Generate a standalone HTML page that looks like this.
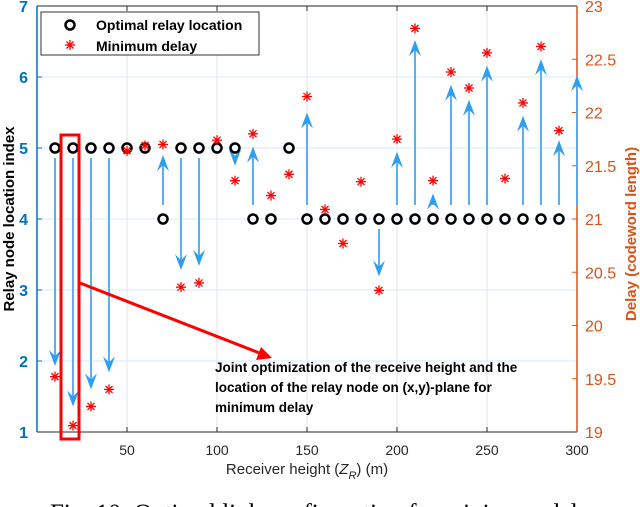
<!DOCTYPE html>
<html><head><meta charset="utf-8"><style>
html,body{margin:0;padding:0;background:#fff;width:640px;height:507px;overflow:hidden}
svg{display:block;font-family:"Liberation Sans",sans-serif}
</style></head><body>
<svg id="chart" width="640" height="507" viewBox="0 0 640 507" xmlns="http://www.w3.org/2000/svg">
<g id="grid"></g>
<g id="axes"></g>
<g id="arrows"></g>
<g id="marks"></g>
<g>
<rect x="61" y="135" width="18" height="304" fill="none" stroke="#ff0000" stroke-width="3"/>
<line x1="80" y1="283" x2="262" y2="354" stroke="#ff0000" stroke-width="3"/>
<polygon points="272,358 256,360 261,347" fill="#ff0000"/>
<text x="215" y="372" font-size="13.5" font-weight="bold" fill="#000"><tspan x="215">Joint optimization of the receive height and the</tspan><tspan x="215" dy="20">location of the relay node on (x,y)-plane for</tspan><tspan x="215" dy="20">minimum delay</tspan></text>
</g>
<g>
<rect x="41" y="12" width="218" height="43" fill="#fff" stroke="#333" stroke-width="1"/>
<circle cx="70" cy="25" r="4.5" fill="none" stroke="#000" stroke-width="2.5"/>
<text x="96" y="30" font-size="14" font-weight="bold">Optimal relay location</text>
<g stroke="#ff0000" stroke-width="1.3"><line x1="65" y1="45" x2="75" y2="45"/><line x1="70" y1="40" x2="70" y2="50"/><line x1="66.5" y1="41.5" x2="73.5" y2="48.5"/><line x1="66.5" y1="48.5" x2="73.5" y2="41.5"/></g>
<text x="96" y="51" font-size="14" font-weight="bold">Minimum delay</text>
</g>
<text x="50" y="521" font-family="Liberation Serif, serif" font-size="25" fill="#000">Fig. 10: Optimal link configuration for minimum delay</text>
</svg>
<script>
const xCats=[10,20,30,40,50,60,70,80,90,100,110,120,130,140,150,160,170,180,190,200,210,220,230,240,250,260,270,280,290];
const relayIdx=[5,5,5,5,5,5,4,5,5,5,5,4,4,5,4,4,4,4,4,4,4,4,4,4,4,4,4,4,4];
const delayVals=[19.52,19.06,19.24,19.40,21.64,21.69,21.70,20.36,20.40,21.74,21.36,21.80,21.22,21.42,22.15,21.09,20.77,21.35,20.33,21.75,22.79,21.36,22.38,22.23,22.56,21.38,22.09,22.62,21.83];
const arrowX=[10,20,30,40,70,80,90,110,120,150,190,200,210,220,230,240,250,270,280,290,300];
const arrowFrom=[5,5,5,5,4,5,5,5,4,4,4,4,4,4,4,4,4,4,4,4,4];
const arrowTo=[19.62,19.24,19.40,19.56,21.60,20.52,20.56,21.50,21.68,22.00,20.46,21.63,22.68,21.24,22.26,22.12,22.44,21.97,22.50,21.74,22.35];
const xTicks=[50,100,150,200,250,300];
const yTicks=[1,2,3,4,5,6,7];
const y2Ticks=[19,19.5,20,20.5,21,21.5,22,22.5,23];
const NS='http://www.w3.org/2000/svg';
const L=37,R=577,T=6,B=432;
const xs=v=>L+(v/300)*(R-L);
const ys=v=>B-(v-1)/6*(B-T);
const y2s=v=>B-(v-19)/4*(B-T);
function mk(tag,attrs,parent){const e=document.createElementNS(NS,tag);for(const k in attrs)e.setAttribute(k,attrs[k]);parent.appendChild(e);return e;}
const grid=document.getElementById('grid'),axes=document.getElementById('axes'),arrows=document.getElementById('arrows'),marks=document.getElementById('marks');
xTicks.forEach(t=>{const g=mk('line',{x1:xs(t),x2:xs(t),y1:T,y2:B,stroke:'#e4e4e4','stroke-width':1},grid);


const tk=mk('text',{x:xs(t),y:455,'font-size':14,'text-anchor':'middle',fill:'#262626'},axes);tk.textContent=t;


mk('line',{x1:xs(t),x2:xs(t),y1:B,y2:B-5,stroke:'#262626'},axes);mk('line',{x1:xs(t),x2:xs(t),y1:T,y2:T+5,stroke:'#262626'},axes);});
yTicks.forEach(t=>{if(t>1&&t<7){const g=mk('line',{x1:L,x2:R,y1:ys(t),y2:ys(t),stroke:'#d6eaf8','stroke-width':1},grid);

}
const tk=mk('text',{x:28,y:ys(t)+6,'font-size':16,'font-weight':'bold','text-anchor':'end',fill:'#0072bd'},axes);tk.textContent=t;


mk('line',{x1:L,x2:L+5,y1:ys(t),y2:ys(t),stroke:'#0072bd'},axes);});
y2Ticks.forEach(t=>{const tk=mk('text',{x:585,y:y2s(t)+6,'font-size':16,fill:'#d95319'},axes);tk.textContent=t;


mk('line',{x1:R,x2:R-5,y1:y2s(t),y2:y2s(t),stroke:'#d95319'},axes);});
mk('line',{x1:L,x2:R,y1:B,y2:B,stroke:'#262626'},axes);
mk('line',{x1:L,x2:R,y1:T,y2:T,stroke:'#262626'},axes);
mk('line',{x1:L,x2:L,y1:T,y2:B,stroke:'#0072bd','stroke-width':1.5},axes);
mk('line',{x1:R,x2:R,y1:T,y2:B,stroke:'#d95319','stroke-width':1.5},axes);
let t1=mk('text',{x:307,y:474,'font-size':15,'text-anchor':'middle',fill:'#262626'},axes);
t1.innerHTML='Receiver height (<tspan font-style="italic">Z</tspan><tspan font-style="italic" font-size="11" dy="5">R</tspan><tspan dy="-5">) (m)</tspan>';


let t2=mk('text',{x:0,y:0,'font-size':15,'font-weight':'bold','text-anchor':'middle',fill:'#000',transform:'translate(14,219) rotate(-90)'},axes);t2.textContent='Relay node location index';


let t3=mk('text',{x:0,y:0,'font-size':15,'font-weight':'bold','text-anchor':'middle',fill:'#d95319',transform:'translate(636,234) rotate(-90)'},axes);t3.textContent='Delay (codeword length)';


arrowX.forEach((x,i)=>{const px=xs(x);const cy=ys(arrowFrom[i]);
const yt=y2s(arrowTo[i]);const dir=yt>cy?1:-1;const y0=dir>0?cy+10:cy-14;
const g=mk('g',{},arrows);


mk('line',{x1:px,y1:y0,x2:px,y2:yt-dir*6,stroke:'#4aa8ef','stroke-width':1.8},g);
const hb=yt-dir*16,hn=yt-dir*10;
mk('polygon',{points:`${px},${yt} ${px-6},${hb} ${px},${hn} ${px+6},${hb}`,fill:'#2e9ef0'},g);});
xCats.forEach((x,i)=>{const c=mk('circle',{cx:xs(x),cy:ys(relayIdx[i]),r:4.5,fill:'none',stroke:'#000','stroke-width':2.5},marks);


const sx=xs(x),sy=y2s(delayVals[i]);
const s=mk('g',{stroke:'#ff0000','stroke-width':1.3},marks);


mk('line',{x1:sx-5,y1:sy,x2:sx+5,y2:sy},s);mk('line',{x1:sx,y1:sy-5,x2:sx,y2:sy+5},s);
mk('line',{x1:sx-3.5,y1:sy-3.5,x2:sx+3.5,y2:sy+3.5},s);mk('line',{x1:sx-3.5,y1:sy+3.5,x2:sx+3.5,y2:sy-3.5},s);});
</script>
</body></html>
